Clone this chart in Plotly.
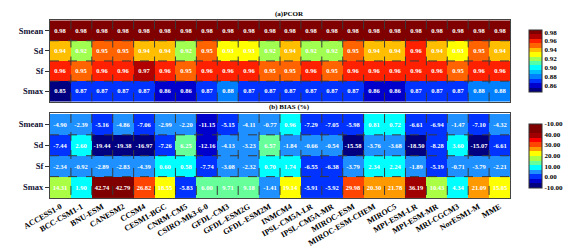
import plotly.graph_objects as go
from plotly.subplots import make_subplots

models = ["ACCESS1-0", "BCC-CSM1-1", "BNU-ESM", "CANESM2", "CCSM4", "CESM1-BGC",
          "CNRM-CM5", "CSIRO-Mk3-6-0", "GFDL-CM3", "GFDL-ESM2G", "GFDL-ESM2M",
          "INMCM4", "IPSL-CM5A-LR", "IPSL-CM5A-MR", "MIROC-ESM", "MIROC-ESM-CHEM",
          "MIROC5", "MPI-ESM-LR", "MPI-ESM-MR", "MRI-CGCM3", "NorESM1-M", "MME"]
rows = ["Smean", "Sd", "Sf", "Smax"]

pcor_smean = [0.98] * 22
pcor_sd = [0.94, 0.92, 0.95, 0.95, 0.94, 0.94, 0.92, 0.95, 0.93, 0.93, 0.92,
           0.94, 0.92, 0.92, 0.95, 0.94, 0.94, 0.96, 0.94, 0.93, 0.95, 0.94]
pcor_sf = [0.96, 0.95, 0.96, 0.96, 0.97, 0.96, 0.95, 0.96, 0.96, 0.96, 0.95,
           0.95, 0.96, 0.95, 0.96, 0.96, 0.96, 0.96, 0.96, 0.95, 0.96, 0.96]
pcor_smax = [0.85, 0.87, 0.87, 0.87, 0.87, 0.86, 0.86, 0.87, 0.88, 0.87, 0.87,
             0.87, 0.87, 0.87, 0.87, 0.86, 0.86, 0.87, 0.87, 0.87, 0.88, 0.88]

bias_smean = [-4.90, -2.39, -5.16, -4.86, -7.06, -2.99, -2.20, -11.15, -5.15, -4.11, -0.77,
              0.96, -7.29, -7.05, -5.98, 0.81, 0.72, -6.61, -6.94, -1.47, -7.10, -4.32]
bias_sd = [-7.44, 2.60, -19.44, -19.38, -16.97, -7.26, 6.25, -12.16, -4.13, -3.23, 6.57,
           -1.84, -0.66, -0.54, -15.58, -3.76, -3.68, -18.50, -8.28, 3.60, -15.07, -6.61]
bias_sf = [-2.34, -0.92, -2.89, -2.83, -4.39, 0.60, 0.58, -7.74, -3.08, -2.32, 0.70,
           1.74, -6.55, -6.38, -3.79, 2.34, 2.24, -1.89, -5.19, -0.71, -3.79, -2.21]
bias_smax = [14.31, 1.90, 42.74, 42.79, 26.82, 18.55, -5.83, 6.00, 9.71, 9.18, -1.41,
             19.14, -5.91, -5.92, 29.98, 20.30, 21.78, 36.19, 10.43, 4.34, 21.09, 15.05]

pcor_cb_ticks = ["0.86", "0.88", "0.90", "0.92", "0.94", "0.96", "0.98"]
bias_cb_ticks = ["-10.00", "0.00", "10.00", "20.00", "30.00", "40.00", "-10.00"]

pcor_colors = ['#000080', '#0000CD', '#0033FF', '#0080FF', '#00BFFF', '#00FFFF', '#55FFAA',
               '#A0FF50', '#FFFF00', '#FFBF00', '#FF6400', '#FF2000', '#B00000', '#800000']
bias_colors = ['#000080', '#0000CD', '#0033FF', '#1E90FF', '#00FFFF', '#66FF99', '#AAFF44',
               '#FFFF00', '#FF9900', '#FF4500', '#FF0000', '#A00000', '#800000', '#800000']


def discrete(colors):
    n = len(colors)
    cs = []
    for i, c in enumerate(colors):
        cs.append([i / n, c])
        cs.append([(i + 1) / n, c])
    return cs


FONT = "Liberation Serif"
n = len(models)

fig = make_subplots(rows=2, cols=1, vertical_spacing=0.06)

pz_min, pz_max = 0.845, 0.985
bz_min, bz_max = -20, 50

fig.add_trace(go.Heatmap(
    z=[pcor_smean, pcor_sd, pcor_sf, pcor_smax], x=list(range(n)), y=rows,
    colorscale=discrete(pcor_colors), zmin=pz_min, zmax=pz_max,
    texttemplate="%{z:.2f}", textfont=dict(family=FONT, size=6.5, color="white", weight="bold"),
    colorbar=dict(x=1.02, xanchor="left", y=0.77, yanchor="middle", len=0.46, thickness=13,
                  outlinecolor="#333", outlinewidth=1, ticks="",
                  tickvals=[0.86, 0.88, 0.90, 0.92, 0.94, 0.96, 0.98], ticktext=pcor_cb_ticks,
                  tickfont=dict(family=FONT, size=7, color="black", weight="bold")),
    hoverinfo="skip"), row=1, col=1)

step = (bz_max - bz_min) / 6
fig.add_trace(go.Heatmap(
    z=[bias_smean, bias_sd, bias_sf, bias_smax], x=list(range(n)), y=rows,
    colorscale=discrete(bias_colors), zmin=bz_min, zmax=bz_max,
    texttemplate="%{z:.2f}", textfont=dict(family=FONT, size=6.5, color="white", weight="bold"),
    colorbar=dict(x=1.02, xanchor="left", y=0.238, yanchor="middle", len=0.47, thickness=13,
                  outlinecolor="#333", outlinewidth=1, ticks="",
                  tickvals=[bz_min + i * step for i in range(7)], ticktext=bias_cb_ticks,
                  tickfont=dict(family=FONT, size=7, color="black", weight="bold")),
    hoverinfo="skip"), row=2, col=1)

for r, xref, yref in [(1, "x", "y"), (2, "x2", "y2")]:
    for i in range(1, n):
        fig.add_shape(type="line", xref=xref, yref=yref, x0=i - 0.5, x1=i - 0.5, y0=-0.5, y1=3.5,
                      line=dict(color="#3a3a3a", width=1, dash="dash"), layer="above")
    for j in range(1, len(rows)):
        fig.add_shape(type="line", xref=xref, yref=yref, x0=-0.5, x1=n - 0.5, y0=j - 0.5, y1=j - 0.5,
                      line=dict(color="#3a3a3a", width=1, dash="dash"), layer="above")

axis_common = dict(showline=True, linecolor="#444", linewidth=1, mirror=True, showgrid=False, zeroline=False)
fig.update_xaxes(range=[-0.5, n - 0.5], **axis_common)
fig.update_xaxes(showticklabels=False, ticks="", row=1, col=1)
fig.update_xaxes(tickmode="array", tickvals=list(range(n)), ticktext=models, tickangle=-30,
                 ticks="", tickfont=dict(family=FONT, size=8, color="black", weight="bold"),
                 row=2, col=1)
fig.update_yaxes(autorange="reversed", ticks="outside", ticklen=4, tickcolor="#333",
                 tickfont=dict(family=FONT, size=8.5, color="#111133", weight="bold"),
                 **axis_common)

fig.update_layout(
    width=575, height=251,
    margin=dict(l=29, r=43, t=11, b=38),
    paper_bgcolor="white", plot_bgcolor="white",
    showlegend=False,
    yaxis=dict(domain=[0.54, 1.0]),
    yaxis2=dict(domain=[0.0, 0.475]),
    annotations=[
        dict(text="(a)PCOR", x=0.52, y=1.0, xref="paper", yref="paper", yanchor="bottom",
             showarrow=False, font=dict(family=FONT, size=7, color="black", weight="bold")),
        dict(text="(b) BIAS (%)", x=0.52, y=0.478, xref="paper", yref="paper", yanchor="bottom",
             showarrow=False, font=dict(family=FONT, size=7, color="black", weight="bold")),
    ],
)

fig.write_html("out.html")
